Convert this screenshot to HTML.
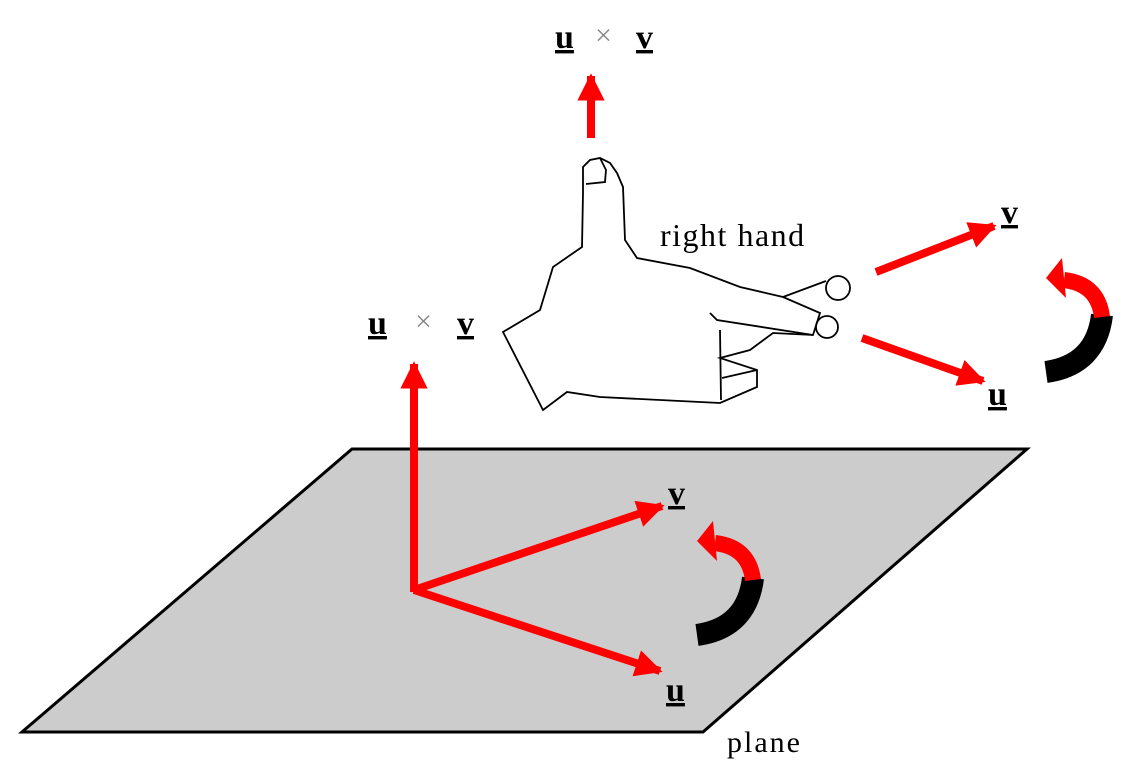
<!DOCTYPE html>
<html><head><meta charset="utf-8"><style>
html,body{margin:0;padding:0;background:#fff;}
svg{display:block;}
text{font-family:"Liberation Serif",serif;}
.b{font-weight:bold;font-size:34px;}
</style></head><body>
<svg width="1130" height="772" viewBox="0 0 1130 772">
<defs>
<marker id="ah" viewBox="0 0 10 10" refX="9" refY="5" markerWidth="3.4" markerHeight="3.4" orient="auto"><path d="M0,0 L10,5 L0,10 z" fill="#f00"/></marker>
<g id="curl">
<path d="M0,102 Q50,95 56,45" fill="none" stroke="#000" stroke-width="22"/>
<path d="M56,47 Q52,14 18,10" fill="none" stroke="#f00" stroke-width="16"/>
<path d="M16,-12 L0,8 L20,28 z" fill="#f00"/>
</g>
</defs>
<polygon points="352,449 1027,449 703,732 22,732" fill="#cccccc" stroke="#000" stroke-width="3"/>
<text x="727" y="752" font-size="30" letter-spacing="2">plane</text>
<g stroke="#f00" stroke-width="8" marker-end="url(#ah)" fill="none">
<line x1="414" y1="592" x2="414" y2="364"/>
<line x1="414" y1="590" x2="662" y2="506"/>
<line x1="414" y1="590" x2="660" y2="671"/>
<line x1="591" y1="138" x2="591" y2="76"/>
<line x1="876" y1="272" x2="994" y2="226"/>
<line x1="862" y1="338" x2="983" y2="381"/>
</g>
<use href="#curl" x="697" y="533"/>
<use href="#curl" x="1046" y="270"/>
<g fill="none" stroke="#000" stroke-width="1.8">
<path d="M583,193 L583,167 L590,160 L600,158 L610,163 L617,173 L623,187 L625,240 L637,258 L690,268 L740,287 L783,297 L820,313 L813,335 L773,333 L750,350 L720,358 L757,370 L757,387 L720,403 L600,397 L567,392 L543,410 L503,332 L540,310 L553,267 L582,247 L583,193 Z"/>
<path d="M586,184 L605,182 L606,170 L600,158"/>
<circle cx="838" cy="288" r="12"/>
<circle cx="827" cy="327" r="11"/>
<path d="M783,297 L826,281 M813,335 L717,320 L710,313 M720,330 L721,400 M757,370 L722,378"/>
</g>
<text x="660" y="246" font-size="32" letter-spacing="1.5">right hand</text>
<g>
<text class="b" x="555" y="48" text-decoration="underline">u</text>
<text x="595" y="45" font-size="30" fill="#888">×</text>
<text class="b" x="636" y="48" text-decoration="underline">v</text>
</g>
<g>
<text class="b" x="368" y="334" text-decoration="underline">u</text>
<text x="415" y="331" font-size="30" fill="#888">×</text>
<text class="b" x="457" y="334" text-decoration="underline">v</text>
</g>
<text class="b" x="1001" y="223" text-decoration="underline">v</text>
<text class="b" x="988" y="405" text-decoration="underline">u</text>
<text class="b" x="668" y="504" text-decoration="underline">v</text>
<text class="b" x="666" y="701" text-decoration="underline">u</text>
</svg>
</body></html>
